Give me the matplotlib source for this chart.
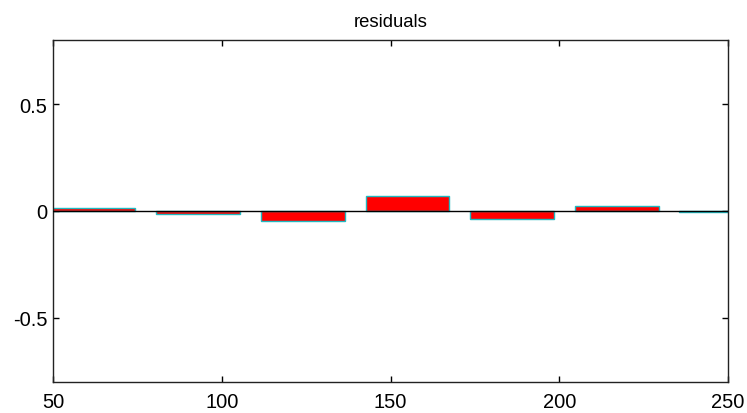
import matplotlib
matplotlib.use("Agg")
import matplotlib.pyplot as plt

# residual bars
centers = [62, 93, 124, 155, 186, 217, 248]
residuals = [0.014, -0.015, -0.047, 0.071, -0.039, 0.022, -0.005]
xticks = [50, 100, 150, 200, 250]
yticks = [-0.5, 0, 0.5]
ytick_labels = ["-0.5", "0", "0.5"]

plt.rcParams['font.family'] = ['Liberation Sans', 'DejaVu Sans']

fig = plt.figure(figsize=(7.47, 4.14), dpi=100)
fig.patch.set_fc('white')
ax = fig.add_axes([0.071, 0.075, 0.9036, 0.826])

ax.bar(centers, residuals, width=24.8, color='red', edgecolor='#20b8c0',
       linewidth=1.0, zorder=2)
ax.axhline(0, color='black', linewidth=1.0, zorder=3)

ax.set_xlim(50, 250)
ax.set_ylim(-0.8, 0.8)
ax.set_xticks(xticks)
ax.set_yticks(yticks)
ax.set_yticklabels(ytick_labels)
ax.tick_params(direction='in', length=4, width=1, top=True, right=True,
               labelsize=14.5)
ax.tick_params(axis='x', pad=7)
ax.tick_params(axis='y', pad=4)
for sp in ax.spines.values():
    sp.set_linewidth(1.0)
    sp.set_color('#222222')
ax.set_title("residuals", fontsize=13.3, pad=10)

fig.savefig("out.png", dpi=100)
